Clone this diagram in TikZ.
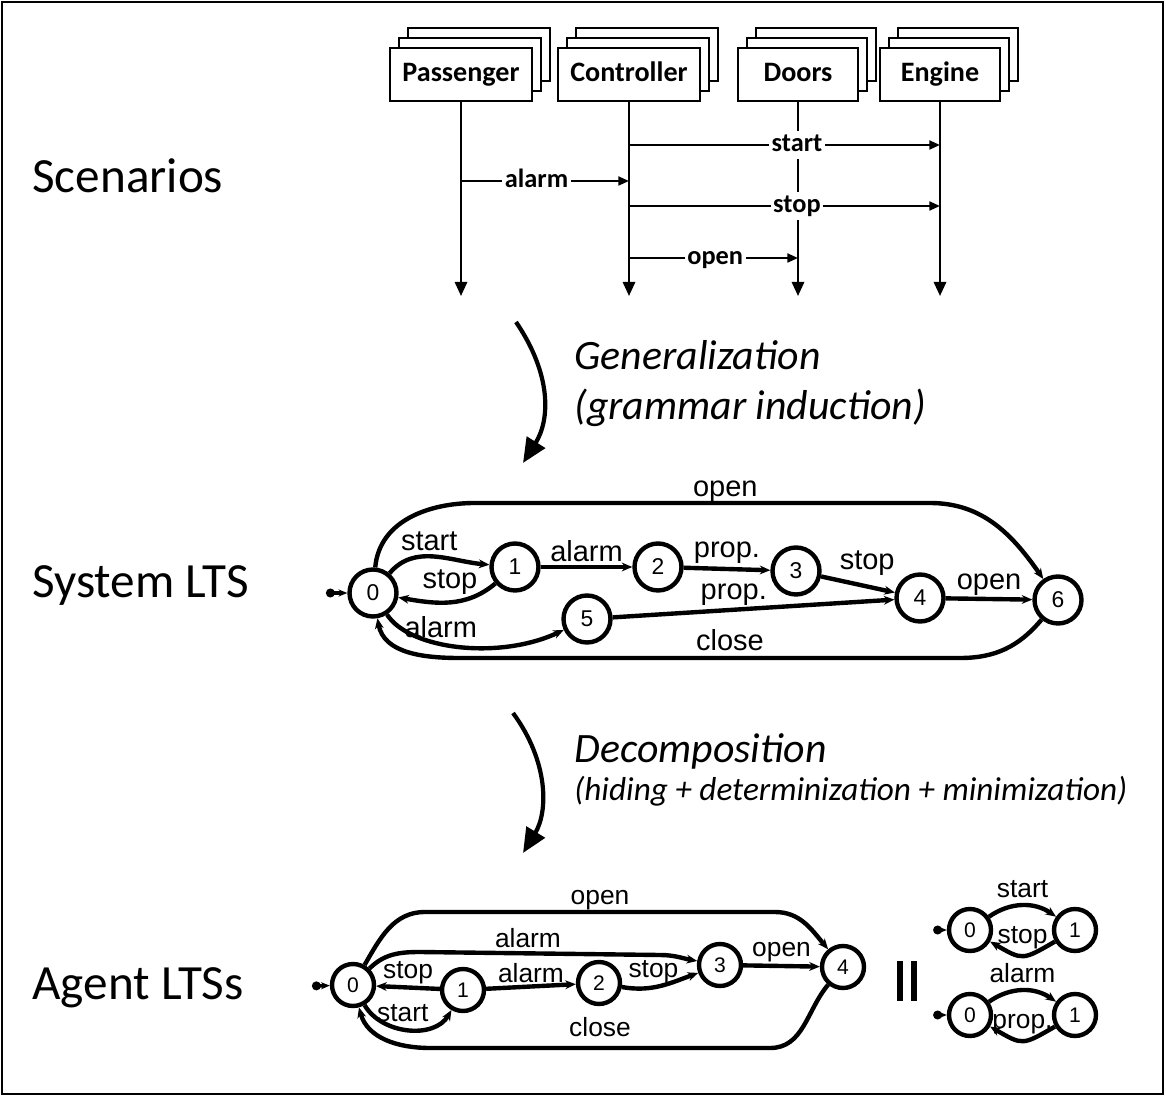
\documentclass[tikz,border=0pt]{standalone}
\usepackage{fontspec}
\setmainfont{Carlito}
\newfontfamily\arialfont{Liberation Sans}
\usetikzlibrary{arrows.meta}

\tikzset{
  boxline/.style={draw, line width=1.6pt, fill=white},
  actor/.style={boxline, minimum height=1.06cm, inner sep=0pt,
    text height=11pt, text depth=3pt, font=\fontsize{16}{16}\selectfont\bfseries},
  life/.style={line width=1.3pt, -{Triangle[length=8pt,width=7pt]}},
  msg/.style={line width=1.3pt, -{Triangle[length=6pt,width=5pt]}},
  msglabel/.style={fill=white, inner sep=1.5pt, text height=10pt, text depth=3pt,
    font=\fontsize{15}{15}\selectfont\bfseries},
  sectionlabel/.style={anchor=base west, inner sep=0pt, font=\fontsize{28}{28}\selectfont},
  stagelabel/.style={anchor=base west, inner sep=0pt, font=\fontsize{23.8}{24}\selectfont\itshape},
  bigarrow/.style={line width=2.4pt, -{Triangle[length=14pt,width=12pt]}},
  ltsstate/.style={circle, draw, line width=2.5pt, fill=white, minimum size=0.94cm,
    inner sep=0pt, font=\arialfont\fontsize{13}{13}\selectfont},
  agentstate/.style={ltsstate, minimum size=0.84cm, font=\arialfont\fontsize{12}{12}\selectfont},
  trans/.style={line width=2.5pt, -{Stealth[length=6pt,width=5pt]}},
  initial/.style={line width=2pt, {Circle[length=5pt]}-{Stealth[length=5pt,width=4pt]}},
  lbl/.style={font=\arialfont\fontsize{16.5}{17}\selectfont, inner sep=0pt},
  smalllbl/.style={font=\arialfont\fontsize{15}{15}\selectfont, inner sep=0pt},
}

\begin{document}
\begin{tikzpicture}[x=0.02cm, y=-0.02cm]
    \useasboundingbox (0,0) rectangle (1166,1097);
    % Frame
    \draw [line width=0.8pt] (2,2) rectangle (1163,1094);

    % Section titles
    \node [sectionlabel] (scenarios) at (32,193) {Scenarios};
    \node [sectionlabel] (systemlts) at (32,598) {System LTS};
    \node [sectionlabel] (agentlts) at (32,999) {Agent LTSs};

    % Actors with stacked boxes and lifelines
    \foreach \name/\xl/\xr in {Passenger/390/532, Controller/558/700,
                               Doors/738/858, Engine/880/1000} {
        \foreach \k in {2,1}
            \draw [boxline] (\xl+9*\k,48-10*\k) rectangle (\xr+9*\k,101-10*\k);
        \node [actor, minimum width={(\xr-\xl)*0.02cm}] (\name)
            at ({(\xl+\xr)/2},74.5) {\name};
        \coordinate (\name-end) at ({(\xl+\xr)/2},296);
        \draw [life] (\name.south) -- (\name-end);
    }

    % Messages
    \coordinate (rowstart) at (0,145);
    \coordinate (rowalarm) at (0,181);
    \coordinate (rowstop) at (0,206);
    \coordinate (rowopen) at (0,258);
    \draw [msg] (Controller |- rowstart) -- node [msglabel, pos=0.54] {start} (Engine |- rowstart);
    \draw [msg] (Passenger |- rowalarm) -- node [msglabel, pos=0.45] {alarm} (Controller |- rowalarm);
    \draw [msg] (Controller |- rowstop) -- node [msglabel, pos=0.54] {stop} (Engine |- rowstop);
    \draw [msg] (Controller |- rowopen) -- node [msglabel, pos=0.51] {open} (Doors |- rowopen);

    % Generalization step
    \coordinate (gtop) at (516,322);
    \coordinate (gbot) at (523,463);
    \draw [bigarrow] (gtop) .. controls (552,375) and (550,420) .. (gbot);
    \node [stagelabel] (gen) at (574,370) {Generalization};
    \node [stagelabel] (genb) at (574,420) {(grammar induction)};

    % System LTS
    \node [ltsstate] (s0) at (373,593) {0};
    \node [ltsstate] (s1) at (515,567) {1};
    \node [ltsstate] (s2) at (658,567) {2};
    \node [ltsstate] (s3) at (796,571) {3};
    \node [ltsstate] (s4) at (920,598) {4};
    \node [ltsstate] (s5) at (587,619) {5};
    \node [ltsstate] (s6) at (1058,600) {6};
    \coordinate (sinit) at (326,593);
    \draw [initial] (sinit) -- (s0);

    \draw [trans] (s0) to [out=50,in=175] node [lbl, above=2pt, pos=0.45] {start} (s1);
    \draw [trans] (s1) to [out=220,in=-10] node [lbl, above=3pt] {stop} (s0);
    \draw [trans] (s1) -- node [lbl, above=2pt] {alarm} (s2);
    \draw [trans] (s2) -- node [lbl, above=2pt, pos=0.5] {prop.} (s3);
    \draw [trans] (s3) -- node [lbl, above right=1pt, pos=0.2] {stop} (s4);
    \draw [trans] (s5) -- node [lbl, above=1pt, pos=0.43] {prop.} (s4);
    \draw [trans] (s4) -- node [lbl, above=1pt] {open} (s6);
    \draw [trans] (s0) .. controls (410,650) and (500,660) .. node [lbl, above=2pt, pos=0.4] {alarm} (s5);
    \draw [trans] (s0) to [out=85,in=180] (475,503)
        -- node [lbl, above=-1pt, pos=0.55] {open} (930,503) to [out=0,in=125] (s6);
    \draw [trans] (s6) to [out=-130,in=0] (960,658)
        -- node [lbl, above=3pt, pos=0.46] {close} (460,658) to [out=180,in=-80] (s0);

    % Decomposition step
    \coordinate (dtop) at (513,713);
    \coordinate (dbot) at (523,853);
    \draw [bigarrow] (dtop) .. controls (549,762) and (548,812) .. (dbot);
    \node [stagelabel] (dec) at (574,762) {Decomposition};
    \node [stagelabel, font=\fontsize{18.9}{19}\selectfont\itshape] (decb) at (574,800)
        {(hiding + determinization + minimization)};

    % Agent LTS
    \node [agentstate] (a0) at (353,985) {0};
    \node [agentstate] (a1) at (463,990) {1};
    \node [agentstate] (a2) at (599,983) {2};
    \node [agentstate] (a3) at (720,965) {3};
    \node [agentstate] (a4) at (843,967) {4};
    \coordinate (ainit) at (312,986);
    \draw [initial] (ainit) -- (a0);

    \draw [trans] (a0) to [out=60,in=180] (425,912)
        -- node [smalllbl, above=0pt] {open} (775,912) to [out=0,in=130] (a4);
    \draw [trans] (a0) to [out=45,in=180] (420,952)
        -- node [smalllbl, above=2pt, pos=0.45] {alarm} (660,955) to [out=0,in=170] (a3);
    \draw [trans] (a1) -- node [smalllbl, above=1pt] {stop} (a0);
    \draw [trans] (a0) to [out=-60,in=-120] node [smalllbl, above=3pt, pos=0.45] {start} (a1);
    \draw [trans] (a1) -- node [smalllbl, above=1pt] {alarm} (a2);
    \draw [trans] (a2) to [out=-10,in=200] node [smalllbl, above=1pt, pos=0.4] {stop} (a3);
    \draw [trans] (a3) -- node [smalllbl, above=1pt] {open} (a4);
    \draw [trans] (a4) to [out=-130,in=0] (770,1048)
        -- node [smalllbl, above=5pt] {close} (430,1048) to [out=180,in=-75] (a0);

    % Parallel composition
    \draw [line width=3.4pt] (900,961) -- (900,1001);
    \draw [line width=3.4pt] (914,961) -- (914,1001);

    % Controller / Passenger LTSs
    \node [agentstate] (t0) at (970,930) {0};
    \node [agentstate] (t1) at (1075,930) {1};
    \coordinate (tinit) at (942,930);
    \draw [initial] (tinit) -- (t0);
    \draw [trans] (t0) to [out=35,in=145] node [smalllbl, above=3pt] {start} (t1);
    \draw [trans] (t1) to [out=-150,in=-30, looseness=1.5] node [smalllbl, above=2.5pt] {stop} (t0);

    \node [agentstate] (u0) at (970,1015) {0};
    \node [agentstate] (u1) at (1075,1015) {1};
    \coordinate (uinit) at (942,1015);
    \draw [initial] (uinit) -- (u0);
    \draw [trans] (u0) to [out=35,in=145] node [smalllbl, above=3pt] {alarm} (u1);
    \draw [trans] (u1) to [out=-150,in=-30, looseness=1.5] node [smalllbl, above=2.5pt] {prop.} (u0);
\end{tikzpicture}
\end{document}
